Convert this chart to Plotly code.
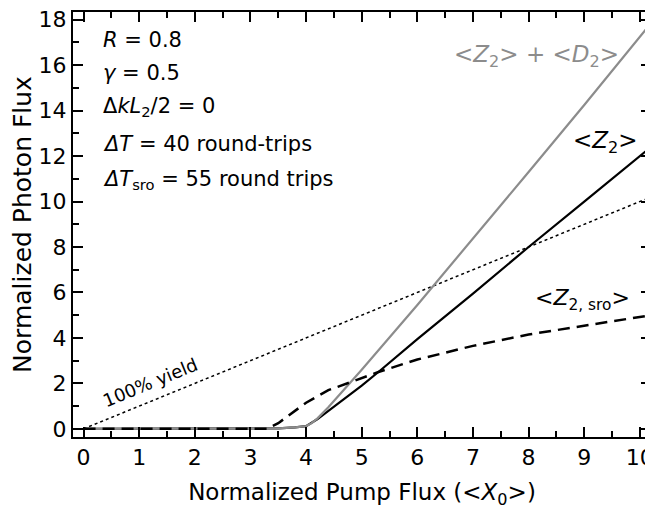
import plotly.graph_objects as go

# ---- data ----
x_yield = [0, 10.2]
y_yield = [0, 10.2]

x_z = [0, 3.0, 3.5, 3.8, 4.0, 4.2, 4.4, 4.6, 5.0, 5.3, 6.0, 7.0, 8.0, 9.0, 10.2]
y_z = [0, 0, 0.02, 0.06, 0.12, 0.42, 0.78, 1.15, 1.9, 2.5, 3.95, 5.95, 8.0, 10.0, 12.4]

x_zd = [0, 3.0, 3.5, 3.8, 4.0, 4.1, 4.2, 4.4, 4.6, 5.0, 6.0, 7.0, 8.0, 9.0, 10.2]
y_zd = [0, 0, 0.02, 0.06, 0.12, 0.25, 0.45, 0.95, 1.5, 2.6, 5.45, 8.35, 11.3, 14.25, 17.85]

x_sro = [0, 3.3, 3.5, 3.75, 4.0, 4.4, 4.8, 5.3, 6.0, 7.0, 8.0, 9.0, 10.2]
y_sro = [0, 0, 0.25, 0.7, 1.15, 1.7, 2.05, 2.5, 3.05, 3.65, 4.15, 4.55, 5.0]

x_ticks = [0, 1, 2, 3, 4, 5, 6, 7, 8, 9, 10]
y_ticks = [0, 2, 4, 6, 8, 10, 12, 14, 16, 18]

param_lines = [
    "<i>R</i> = 0.8",
    "<i>γ</i> = 0.5",
    "Δ<i>kL</i><sub>2</sub>/2 = 0",
    "<i>ΔT</i> = 40 round-trips",
    "<i>ΔT</i><sub>sro</sub> = 55 round trips",
]
param_y = [17.1, 15.65, 14.15, 12.55, 10.95]

FONT = "DejaVu Sans"
GRAY = "rgb(140,140,140)"

fig = go.Figure()
fig.add_trace(go.Scatter(x=x_yield, y=y_yield, mode="lines",
                         line=dict(color="black", width=1.5, dash="3px,3px")))
fig.add_trace(go.Scatter(x=x_z, y=y_z, mode="lines",
                         line=dict(color="black", width=2.2)))
fig.add_trace(go.Scatter(x=x_zd, y=y_zd, mode="lines",
                         line=dict(color=GRAY, width=2.2)))
fig.add_trace(go.Scatter(x=x_sro, y=y_sro, mode="lines",
                         line=dict(color="black", width=2.5, dash="12px,7px")))

for txt, yy in zip(param_lines, param_y):
    fig.add_annotation(x=0.31, y=yy, text=txt, showarrow=False,
                       xanchor="left", yanchor="middle",
                       font=dict(family=FONT, size=21, color="black"))

fig.add_annotation(x=8.15, y=16.4, text="&lt;<i>Z</i><sub>2</sub>&gt; + &lt;<i>D</i><sub>2</sub>&gt;",
                   showarrow=False, font=dict(family=FONT, size=23, color=GRAY))
fig.add_annotation(x=9.39, y=12.6, text="&lt;<i>Z</i><sub>2</sub>&gt;",
                   showarrow=False, font=dict(family=FONT, size=23, color="black"))
fig.add_annotation(x=8.96, y=5.7, text="&lt;<i>Z</i><sub>2, sro</sub>&gt;",
                   showarrow=False, font=dict(family=FONT, size=22, color="black"))
fig.add_annotation(x=1.19, y=2.05, text="100% yield", textangle=-22.3,
                   showarrow=False, font=dict(family=FONT, size=18, color="black"))

axis_common = dict(
    showgrid=False, zeroline=False, showline=True, linecolor="black", linewidth=2,
    mirror="ticks", ticks="inside", ticklen=10, tickwidth=2, tickcolor="black",
    tickfont=dict(family=FONT, size=22, color="black"), automargin=False,
    ticklabeloverflow="allow",
)

fig.update_xaxes(range=[-0.19, 10.2], tickvals=x_ticks,
                 minor=dict(dtick=0.5, ticks="inside", ticklen=6, tickwidth=2, tickcolor="black"),
                 title=dict(text="Normalized Pump Flux (&lt;<i>X</i><sub>0</sub>&gt;)",
                            font=dict(family=FONT, size=23, color="black"), standoff=16),
                 **axis_common)
fig.update_yaxes(range=[-0.36, 18.34], tickvals=y_ticks,
                 minor=dict(dtick=1, ticks="inside", ticklen=6, tickwidth=2, tickcolor="black"),
                 title=dict(text="Normalized Photon Flux",
                            font=dict(family=FONT, size=25, color="black"), standoff=8),
                 **axis_common)

# The page body adds an 8px offset, so the figure is sized/margined to compensate.
fig.update_layout(width=645, height=501, showlegend=False,
                  margin=dict(l=65, r=2, t=4, b=72),
                  plot_bgcolor="white", paper_bgcolor="white")

fig.write_html("out.html")
